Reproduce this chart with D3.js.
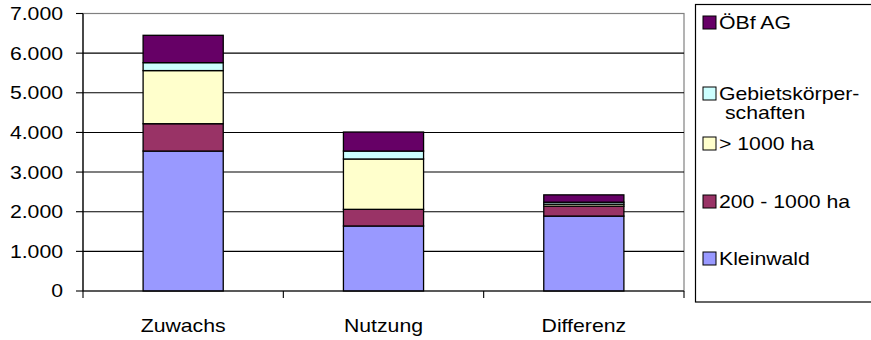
<!DOCTYPE html>
<html>
<head>
<meta charset="utf-8">
<script src="https://cdn.jsdelivr.net/npm/d3@7"></script>
<style>
  html, body { margin: 0; padding: 0; background: #fff; }
  svg { display: block; }
  text { font-family: "Liberation Sans", Arial, sans-serif; font-size: 18px; fill: #000; }
</style>
</head>
<body>
<svg id="chart" width="871" height="340"></svg>
<script>
// Categories along the x axis
const categories = ["Zuwachs", "Nutzung", "Differenz"];

// Series values (stacked from bottom to top)
const kleinwald       = [3530, 1640, 1890];
const ha200bis1000    = [690, 420, 250];
const haUeber1000     = [1340, 1270, 50];
const gebietskoerper  = [200, 200, 50];
const oebf            = [690, 480, 185];

// Y axis tick labels
const yTickValues = [0, 1000, 2000, 3000, 4000, 5000, 6000, 7000];
const yTickLabels = ["0", "1.000", "2.000", "3.000", "4.000", "5.000", "6.000", "7.000"];

// Series definitions: key, legend lines, fill colour
const series = [
  { key: "kleinwald", lines: ["Kleinwald"], color: "#9999FF", values: kleinwald },
  { key: "ha200", lines: ["200 - 1000 ha"], color: "#993366", values: ha200bis1000 },
  { key: "ha1000", lines: ["> 1000 ha"], color: "#FFFFCC", values: haUeber1000 },
  { key: "gbk", lines: ["Gebietskörper-", "schaften"], color: "#CCFFFF", values: gebietskoerper },
  { key: "oebf", lines: ["ÖBf AG"], color: "#660066", values: oebf }
];

const rows = categories.map((c, i) => {
  const r = { category: c };
  series.forEach(s => { r[s.key] = s.values[i]; });
  return r;
});

const svg = d3.select("#chart");
const SX = 1.18; // horizontal text stretch

const plot = { left: 83, right: 684, top: 13.5, bottom: 291 };

const x = d3.scaleBand().domain(categories).range([plot.left, plot.right]).padding(0);
const y = d3.scaleLinear().domain([0, 7000]).range([plot.bottom, plot.top]);

// Plot area border (grey) and gridlines
svg.append("rect")
  .attr("x", plot.left).attr("y", y(7000))
  .attr("width", plot.right - plot.left).attr("height", plot.bottom - y(7000))
  .attr("fill", "none").attr("stroke", "#808080").attr("stroke-width", 1.2);

svg.append("g").selectAll("line")
  .data(yTickValues.filter(v => v > 0 && v < 7000))
  .join("line")
  .attr("x1", plot.left).attr("x2", plot.right)
  .attr("y1", d => y(d)).attr("y2", d => y(d))
  .attr("stroke", "#000").attr("stroke-width", 1.1);

// Stacked bars
const stack = d3.stack().keys(series.map(s => s.key));
const stacked = stack(rows);
const barW = x.bandwidth() * 0.4;

svg.append("g").selectAll("g")
  .data(stacked)
  .join("g")
  .attr("fill", (d, i) => series[i].color)
  .selectAll("rect")
  .data(d => d)
  .join("rect")
  .attr("x", d => x(d.data.category) + (x.bandwidth() - barW) / 2)
  .attr("y", d => y(d[1]))
  .attr("width", barW)
  .attr("height", d => y(d[0]) - y(d[1]))
  .attr("stroke", "#000")
  .attr("stroke-width", 1.3);

// Y axis
svg.append("line")
  .attr("x1", plot.left).attr("x2", plot.left)
  .attr("y1", y(7000)).attr("y2", plot.bottom)
  .attr("stroke", "#000").attr("stroke-width", 1.2);

svg.append("g").selectAll("line")
  .data(yTickValues)
  .join("line")
  .attr("x1", plot.left - 7).attr("x2", plot.left)
  .attr("y1", d => y(d)).attr("y2", d => y(d))
  .attr("stroke", "#000").attr("stroke-width", 1.1);

svg.append("g").selectAll("text")
  .data(yTickValues)
  .join("text")
  .attr("transform", d => `translate(63,${y(d)}) scale(${SX},1)`)
  .attr("text-anchor", "end")
  .attr("dy", "0.36em")
  .text((d, i) => yTickLabels[i]);

// X axis
svg.append("line")
  .attr("x1", plot.left).attr("x2", plot.right)
  .attr("y1", plot.bottom).attr("y2", plot.bottom)
  .attr("stroke", "#000").attr("stroke-width", 1.2);

const boundaries = categories.map(c => x(c)).concat([x(categories[categories.length - 1]) + x.bandwidth()]);
svg.append("g").selectAll("line")
  .data(boundaries)
  .join("line")
  .attr("x1", d => d).attr("x2", d => d)
  .attr("y1", plot.bottom).attr("y2", plot.bottom + 7)
  .attr("stroke", "#000").attr("stroke-width", 1.1);

svg.append("g").selectAll("text")
  .data(categories)
  .join("text")
  .attr("transform", d => `translate(${x(d) + x.bandwidth() / 2},331.5) scale(${SX},1)`)
  .attr("text-anchor", "middle")
  .text(d => d);

// Legend
const legend = svg.append("g");
legend.append("rect")
  .attr("x", 695.5).attr("y", 4.5).attr("width", 200).attr("height", 297.5)
  .attr("fill", "#fff").attr("stroke", "#000").attr("stroke-width", 1.2);

const legendBaselines = [265, 208, 150, 100, 29];
series.forEach((s, i) => {
  const base = legendBaselines[i];
  legend.append("rect")
    .attr("x", 703).attr("y", base - 13).attr("width", 13).attr("height", 13)
    .attr("fill", s.color).attr("stroke", "#000").attr("stroke-width", 1);
  s.lines.forEach((ln, j) => {
    legend.append("text")
      .attr("transform", `translate(${j === 0 ? 719 : 725},${base + j * 18.5}) scale(${SX},1)`)
      .text(ln);
  });
});
</script>
</body>
</html>
